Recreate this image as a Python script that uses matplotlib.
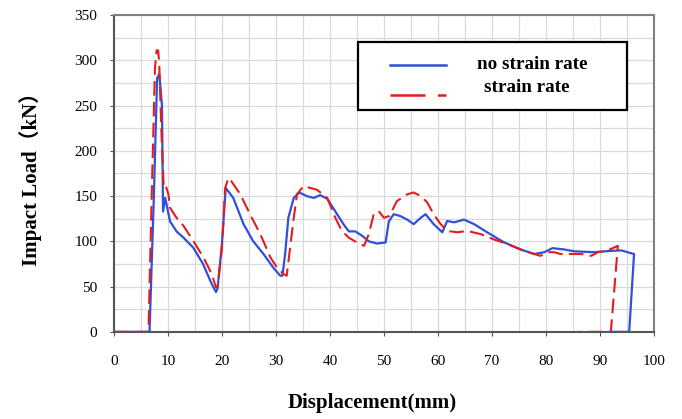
import matplotlib.pyplot as plt
from matplotlib.lines import Line2D
from matplotlib.patches import Rectangle
import numpy as np

# no strain rate (blue, solid)
disp_nsr = [0, 6.6, 7.4, 8.0, 8.4, 8.9, 9.1, 9.5, 10.4, 11.6, 12.9, 14.7, 16.5, 18.1, 18.9,
            19.2, 20.0, 20.7, 22.1, 24.0, 25.8, 27.7, 29.5, 30.8, 31.2, 31.7, 32.3, 33.3,
            34.3, 35.7, 37.0, 38.2, 39.5, 41.0, 42.5, 43.5, 44.7, 46.0, 47.2, 48.7, 50.3,
            50.9, 51.8, 53.0, 54.3, 55.5, 56.8, 57.7, 59.2, 60.8, 61.7, 63.0, 64.8, 66.7,
            69.1, 72.2, 75.3, 77.8, 79.7, 81.2, 83.4, 85.2, 88.9, 92.0, 93.9, 95.1, 96.3,
            95.4, 92.0]
load_nsr = [0, 0, 150, 280, 285, 250, 133, 148, 122, 111, 104, 93, 75, 53, 44,
            48, 97, 159, 148, 119, 100, 86, 71, 62, 62, 86, 126, 148,
            154, 150, 148, 151, 147, 133, 119, 111, 111, 106, 100, 97.6, 98.7,
            122, 130, 128, 124, 119, 126, 130, 119, 110, 122.5, 121, 124, 119,
            110, 99, 91, 86, 88, 92.5, 91, 89, 88, 89.5, 90, 88, 86,
            0, 0]

# strain rate (red, dashed)
disp_sr = [0, 6.4, 7.0, 7.6, 7.9, 8.2, 8.4, 8.8, 9.2, 9.4, 10.1, 10.4, 11.6, 12.9, 14.7,
           16.6, 18.1, 18.9, 19.2, 20.0, 20.6, 21.2, 21.8, 23.4, 25.2, 27.1, 29.0, 30.2,
           31.4, 32.0, 32.7, 33.3, 33.9, 35.1, 37.6, 39.5, 41.0, 42.2, 43.5, 45.0, 46.3,
           47.2, 48.1, 49.0, 50.0, 51.0, 52.4, 54.3, 55.5, 56.8, 58.0, 59.2, 60.5, 61.7,
           63.6, 65.4, 67.9, 70.4, 72.9, 75.3, 77.8, 79.0, 80.3, 81.5, 82.7, 84.6, 86.5,
           88.4, 89.6, 91.4, 93.3, 92.0, 86.2]
load_sr = [0, 0, 150, 291, 311, 311, 295, 221, 163, 165, 152, 137, 126, 117, 100.5,
           82, 64, 49, 50, 93, 159, 170, 166, 152, 130, 108, 82, 71,
           64, 62, 97, 126, 152, 161, 157, 148, 126, 111.5, 104, 98.7, 95,
           108, 130, 133.5, 126, 128, 144.5, 152, 154, 150, 143, 130, 119, 111.5,
           110, 111.5, 108, 102, 97, 91, 86, 84, 88, 88, 86, 86, 86,
           84, 88, 90, 95, 0, 0]

x_ticks = np.arange(0, 101, 10)
y_ticks = np.arange(0, 351, 50)

plt.rcParams['font.family'] = ['Liberation Serif', 'Noto Sans CJK SC']

fig = plt.figure(figsize=(6.82, 4.19), dpi=100)
ax = fig.add_axes([0.167, 0.208, 0.792, 0.756])

ax.plot(disp_nsr, load_nsr, color='#2f4fdc', lw=1.6, zorder=3)
ax.plot(disp_sr, load_sr, color='#e41c1c', lw=1.5, dashes=(7, 3), zorder=4)

ax.set_xlim(0, 100)
ax.set_ylim(0, 350)
ax.set_xticks(x_ticks)
ax.set_yticks(y_ticks)
ax.set_xticks(np.arange(0, 101, 5), minor=True)
ax.set_yticks(np.arange(0, 351, 25), minor=True)
ax.grid(which='both', color='#d9d9d9', lw=0.9, zorder=0)
ax.tick_params(which='minor', length=0)
ax.tick_params(axis='x', which='major', length=3, pad=14, labelsize=11, color='#555555')
ax.tick_params(axis='y', which='major', length=3, pad=9, labelsize=11, color='#555555')
for sp in ax.spines.values():
    sp.set_color('#808080')
    sp.set_linewidth(1.5)
ax.spines['left'].set_color('#555555')
ax.spines['bottom'].set_color('#555555')

fig.text(0.045, 0.585, 'Impact Load（kN）', rotation=90, ha='center', va='center',
         fontsize=15, fontweight='bold')
fig.text(0.545, 0.038, 'Displacement(mm)', ha='center', va='center',
         fontsize=15, fontweight='bold')

# legend box drawn by hand
fig.add_artist(Rectangle((0.525, 0.737), 0.394, 0.163, transform=fig.transFigure,
                         fill=True, facecolor='white', edgecolor='black', lw=1.6, zorder=5))
fig.add_artist(Line2D([0.572, 0.654], [0.845, 0.845], transform=fig.transFigure,
                      color='#2f4fdc', lw=1.8, zorder=6))
fig.add_artist(Line2D([0.572, 0.654], [0.773, 0.773], transform=fig.transFigure,
                      color='#e41c1c', lw=1.8, dashes=(14, 5), zorder=6))
fig.text(0.780, 0.847, 'no strain rate', ha='center', va='center', fontsize=13.8,
         fontweight='bold', zorder=7)
fig.text(0.773, 0.790, 'strain rate', ha='center', va='center', fontsize=13.8,
         fontweight='bold', zorder=7)

fig.savefig('out.png', dpi=100)
